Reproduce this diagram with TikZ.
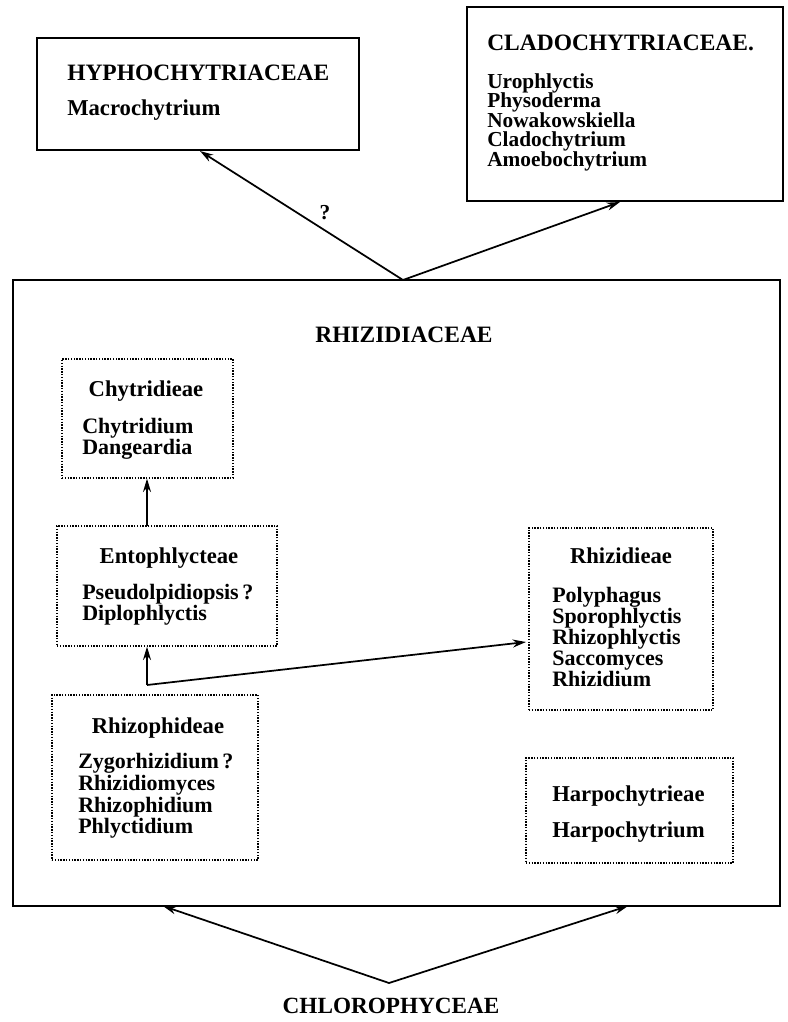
\documentclass[tikz,border=0pt]{standalone}
\usepackage{fontspec}
\setmainfont{Liberation Serif}
\usetikzlibrary{fit,arrows.meta}
\begin{document}
\begin{tikzpicture}[x=0.75pt,y=-0.75pt,
  lbl/.style={font=\bfseries\fontsize{16.5}{18}\selectfont, inner sep=0, anchor=base west},
  ttl/.style={font=\bfseries\fontsize{17}{18}\selectfont, inner sep=0, anchor=base},
  hdl/.style={font=\bfseries\fontsize{17}{18}\selectfont},
  capfont/.style={font=\bfseries\fontsize{17.6}{18}\selectfont},
  small/.style={font=\bfseries\fontsize{16}{17}\selectfont},
  solidbox/.style={draw, line width=1.2pt, inner sep=0},
  bigbox/.style={draw, line width=2pt, inner sep=0},
  dotbox/.style={draw, line width=1pt, dash pattern=on 1pt off 1.1pt, inner sep=0},
  arr/.style={-{Stealth[length=10pt,width=6pt]}, line width=1.3pt},
]
\fill[white] (0,0) rectangle (788,1022);
\useasboundingbox (0,0) rectangle (788,1022);

% Hyphochytriaceae
\node[solidbox, fit={(37,38)(359,150)}] (hyph) {};
\node[lbl, capfont] (hyphT) at (67,80) {HYPHOCHYTRIACEAE};
\node[lbl, hdl] (hyphG) at (67,115) {Macrochytrium};

% Cladochytriaceae
\node[solidbox, fit={(467,7)(783,201)}] (clado) {};
\node[lbl, capfont] (cladoT) at (487,50) {CLADOCHYTRIACEAE.};
\foreach \t/\y [count=\i] in {Urophlyctis/88, Physoderma/107.5, Nowakowskiella/127, Cladochytrium/146.5, Amoebochytrium/166}
  \node[lbl, small] (cladoG\i) at (487,\y) {\t};

% Rhizidiaceae
\node[bigbox, fit={(13,280)(780,906)}] (rhiz) {};
\node[ttl, capfont] (rhizT) at (404,342) {RHIZIDIACEAE};

% Chytridieae
\node[dotbox, fit={(62,359)(233,478)}] (chy) {};
\node[ttl] (chyT) at (146,396) {Chytridieae};
\node[lbl] (chyG1) at (82,433) {Chytridium};
\node[lbl] (chyG2) at (82,454) {Dangeardia};

% Entophlycteae
\node[dotbox, fit={(57,526)(277,646)}] (ento) {};
\node[ttl] (entoT) at (169,563) {Entophlycteae};
\node[lbl] (entoG1) at (82,599) {Pseudolpidiopsis\,?};
\node[lbl] (entoG2) at (82,620) {Diplophlyctis};

% Rhizophideae
\node[dotbox, fit={(52,695)(258,860)}] (rph) {};
\node[ttl] (rphT) at (158,733) {Rhizophideae};
\foreach \t/\y [count=\i] in {Zygorhizidium\,?/768, Rhizidiomyces/790, Rhizophidium/812, Phlyctidium/833}
  \node[lbl] (rphG\i) at (78,\y) {\t};

% Rhizidieae
\node[dotbox, fit={(529,528)(713,710)}] (rzd) {};
\node[ttl] (rzdT) at (621,563) {Rhizidieae};
\foreach \t/\y [count=\i] in {Polyphagus/602, Sporophlyctis/623, Rhizophlyctis/644, Saccomyces/665, Rhizidium/686}
  \node[lbl] (rzdG\i) at (552,\y) {\t};

% Harpochytrieae
\node[dotbox, fit={(526,758)(733,863)}] (harp) {};
\node[lbl, hdl] (harpT) at (552,801) {Harpochytrieae};
\node[lbl, hdl] (harpG) at (552,837) {Harpochytrium};

% Chlorophyceae
\node[ttl, font=\bfseries\fontsize{17.4}{18}\selectfont] (chloro) at (391,1013) {CHLOROPHYCEAE};

% connectors
\coordinate (rtop) at (403,280);
\coordinate (hyphin) at (200,151);
\coordinate (cladoin) at (620,202);
\draw[arr] (rtop) -- (hyphin);
\draw[arr] (rtop) -- (cladoin);
\node[font=\bfseries\fontsize{16}{17}\selectfont, inner sep=0] (q) at (325,213) {?};

\coordinate (ea) at (147,526);
\draw[arr] (ea) -- (ea |- chy.south);
\coordinate (j) at (147,685);
\coordinate (rin) at (526,642);
\draw[arr] (j) -- (j |- ento.south);
\draw[arr] (j) -- (rin);

\coordinate (v) at (389,983);
\coordinate (lb) at (163,906);
\coordinate (rb) at (628,906);
\draw[arr] (v) -- (lb);
\draw[arr] (v) -- (rb);
\end{tikzpicture}
\end{document}
